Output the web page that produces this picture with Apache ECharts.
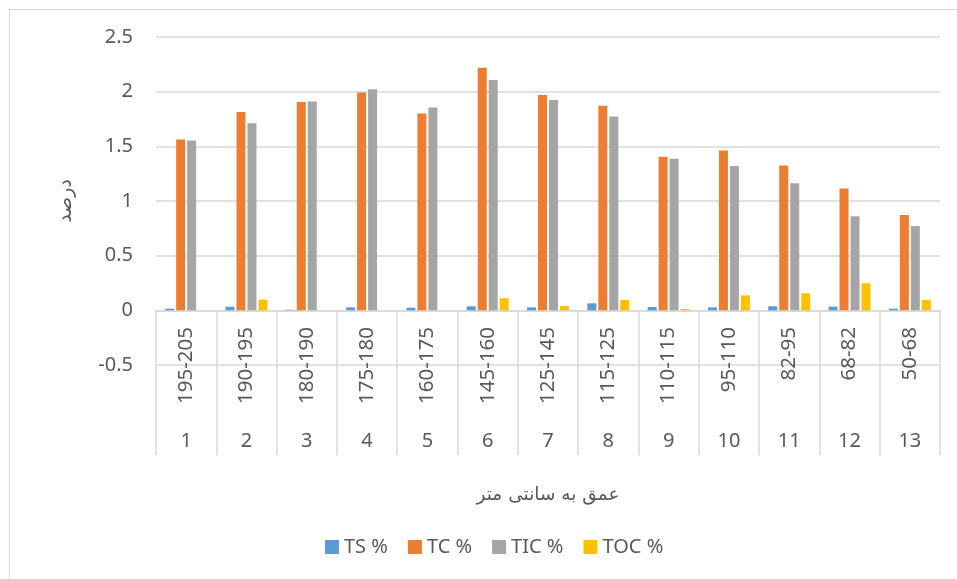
<!DOCTYPE html>
<html>
<head>
<meta charset="utf-8">
<script src="https://cdn.jsdelivr.net/npm/echarts@6/dist/echarts.min.js"></script>
<style>
  html, body { margin: 0; padding: 0; background: #fff; }
  #frame { position: absolute; left: 9px; top: 9px; width: 1000px; height: 1000px; border-left: 1px solid #d9d9d9; border-top: 1px solid #d9d9d9; }
  #chart { position: absolute; left: 0; top: 0; width: 957px; height: 579px; }
</style>
</head>
<body>
<div id="frame"></div>
<div id="chart"></div>
<script>
const depthLabels = ['195-205','190-195','180-190','175-180','160-175','145-160','125-145','115-125','110-115','95-110','82-95','68-82','50-68'];
const sampleLabels = ['1','2','3','4','5','6','7','8','9','10','11','12','13'];
const seriesNames = ['TS %', 'TC %', 'TIC %', 'TOC %'];
const tsValues  = [0.015, 0.034, 0.005, 0.027, 0.024, 0.037, 0.027, 0.064, 0.030, 0.027, 0.037, 0.034, 0.015];
const tcValues  = [1.563, 1.813, 1.905, 1.993, 1.801, 2.219, 1.969, 1.871, 1.404, 1.462, 1.325, 1.114, 0.873];
const ticValues = [1.554, 1.712, 1.911, 2.021, 1.856, 2.106, 1.923, 1.774, 1.386, 1.319, 1.163, 0.861, 0.772];
const tocValues = [0, 0.098, 0, 0, 0, 0.110, 0.040, 0.095, 0.012, 0.137, 0.156, 0.247, 0.094];
const yTitle = 'درصد';
const xTitle = 'عمق به سانتی متر';

const colors = ['#5B9BD5', '#ED7D31', '#A5A5A5', '#FFC000'];
const allValues = [tsValues, tcValues, ticValues, tocValues];
const latin = '"Noto Sans", "Open Sans", sans-serif';
const arabic = '"DejaVu Sans", sans-serif';
const grey = '#595959';
const lineGrey = '#d9d9d9';

const chart = echarts.init(document.getElementById('chart'), null, { renderer: 'canvas' });
chart.setOption({
  animation: false,
  backgroundColor: 'transparent',
  color: colors,
  grid: { left: 156, right: 17, top: 37, bottom: 214, containLabel: false },
  legend: {
    left: 320, top: 532,
    icon: 'rect', itemWidth: 14, itemHeight: 14, itemGap: 20,
    textStyle: { fontFamily: latin, fontSize: 20, color: grey },
    data: seriesNames
  },
  xAxis: [
    {
      type: 'category',
      data: depthLabels,
      gridIndex: 0,
      position: 'bottom',
      axisLine: { show: true, onZero: true, lineStyle: { color: lineGrey, width: 1.5 } },
      axisTick: { show: true, length: 145, interval: 0, alignWithLabel: false, lineStyle: { color: lineGrey, width: 1.5 } },
      axisLabel: { interval: 0, rotate: 90, margin: -38, fontFamily: latin, fontSize: 20.5, color: grey },
      name: xTitle,
      nameLocation: 'middle',
      nameGap: 121,
      nameTextStyle: { fontFamily: arabic, fontSize: 18.5, color: grey }
    },
    {
      type: 'category',
      data: sampleLabels,
      gridIndex: 0,
      position: 'bottom',
      axisLine: { show: false, onZero: false },
      axisTick: { show: false },
      axisLabel: { interval: 0, margin: 66, fontFamily: latin, fontSize: 20, color: grey }
    }
  ],
  yAxis: {
    type: 'value',
    min: -0.5, max: 2.5, interval: 0.5,
    axisLine: { show: false },
    axisTick: { show: false },
    splitLine: { show: true, lineStyle: { color: lineGrey, width: 1.5 } },
    axisLabel: { margin: 23, fontFamily: latin, fontSize: 20, color: grey },
    name: yTitle,
    nameLocation: 'middle',
    nameGap: 80,
    nameTextStyle: { fontFamily: arabic, fontSize: 19, color: grey }
  },
  series: seriesNames.map((n, i) => ({
    name: n,
    type: 'bar',
    xAxisIndex: 0,
    data: allValues[i],
    barWidth: 9,
    barGap: '22%',
    itemStyle: { color: colors[i] }
  }))
});
</script>
</body>
</html>
